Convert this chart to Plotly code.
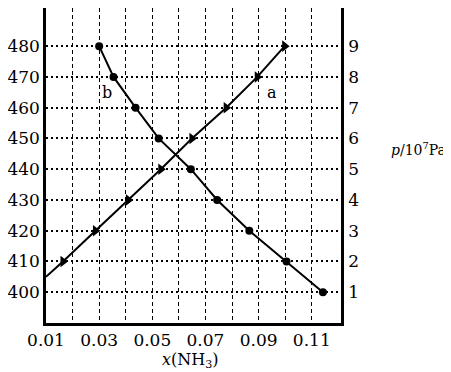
import plotly.graph_objects as go

# Curve a: pressure (right axis, p/10^7 Pa) vs x(NH3)
a_x = [0.0100, 0.0164, 0.0286, 0.0410, 0.0532, 0.0649, 0.0778, 0.0895, 0.0998]
a_p = [1.5, 2, 3, 4, 5, 6, 7, 8, 9]

# Curve b: temperature (left axis) vs x(NH3)
b_x = [0.0300, 0.0354, 0.0437, 0.0524, 0.0645, 0.0744, 0.0865, 0.1005, 0.1142]
b_T = [480, 470, 460, 450, 440, 430, 420, 410, 400]

x_ticks = [0.01, 0.02, 0.03, 0.04, 0.05, 0.06, 0.07, 0.08, 0.09, 0.10, 0.11]
x_ticktext = ["0.01", "", "0.03", "", "0.05", "", "0.07", "", "0.09", "", "0.11"]
T_ticks = [400, 410, 420, 430, 440, 450, 460, 470, 480]
p_ticks = [1, 2, 3, 4, 5, 6, 7, 8, 9]

FONT = "DejaVu Serif"

fig = go.Figure()
fig.add_trace(go.Scatter(
    x=b_x, y=b_T, mode="lines+markers", xaxis="x", yaxis="y",
    line=dict(color="black", width=2),
    marker=dict(symbol="circle", size=8, color="black"),
    showlegend=False,
))
fig.add_trace(go.Scatter(
    x=a_x, y=a_p, mode="lines", xaxis="x", yaxis="y2",
    line=dict(color="black", width=2),
    showlegend=False,
))
fig.add_trace(go.Scatter(
    x=a_x[1:], y=a_p[1:], mode="markers", xaxis="x", yaxis="y2",
    marker=dict(symbol="triangle-right", size=10, color="black",
                line=dict(color="black", width=0)),
    showlegend=False,
))

fig.add_annotation(x=0.0949, y=465, xref="x", yref="y", text="a", showarrow=False,
                   font=dict(family=FONT, size=16, color="black"))
fig.add_annotation(x=0.0330, y=465, xref="x", yref="y", text="b", showarrow=False,
                   font=dict(family=FONT, size=16, color="black"))
fig.add_annotation(x=1.163, y=0.553, xref="paper", yref="paper", xanchor="left",
                   text="<i>p</i>/10<sup>7</sup>Pa", showarrow=False,
                   font=dict(family=FONT, size=14, color="black"))
fig.add_annotation(x=0.4915, y=-0.118, xref="paper", yref="paper",
                   xanchor="center", yanchor="middle",
                   text="<i>x</i>(NH<sub>3</sub>)", showarrow=False,
                   font=dict(family=FONT, size=16, color="black"))

# extend grid and frame lines to the top edge (the reference is cropped there)
for xv in x_ticks[1:]:
    fig.add_shape(type="line", xref="x", yref="paper", x0=xv, x1=xv, y0=1, y1=1.03,
                  line=dict(color="black", width=1.3, dash="4px,3px"))
for xp in [0, 1]:
    fig.add_shape(type="line", xref="paper", yref="paper", x0=xp, x1=xp, y0=1, y1=1.03,
                  line=dict(color="black", width=2.5))

fig.update_layout(
    width=451, height=372,
    margin=dict(l=38, r=118, t=0, b=57),
    paper_bgcolor="white", plot_bgcolor="white",
    font=dict(family=FONT, size=17, color="black"),
    xaxis=dict(
        range=[0.01, 0.121], tickvals=x_ticks, ticktext=x_ticktext,
        showgrid=True, gridcolor="black", gridwidth=1.3, griddash="4px,3px",
        showline=True, linecolor="black", linewidth=2.5, mirror=False,
        ticks="", zeroline=False, ticklabelstandoff=0,
    ),
    yaxis=dict(
        range=[390, 492.4], tickvals=T_ticks,
        showgrid=True, gridcolor="black", gridwidth=1.5, griddash="2px,3px",
        showline=True, linecolor="black", linewidth=2.5, mirror=False,
        ticks="", zeroline=False, ticklabelstandoff=0,
    ),
    yaxis2=dict(
        range=[0, 10.24], tickvals=p_ticks, overlaying="y", side="right",
        showgrid=False, showline=True, linecolor="black", linewidth=2.5,
        ticks="", zeroline=False, ticklabelstandoff=1,
    ),
)

fig.write_html("out.html")
